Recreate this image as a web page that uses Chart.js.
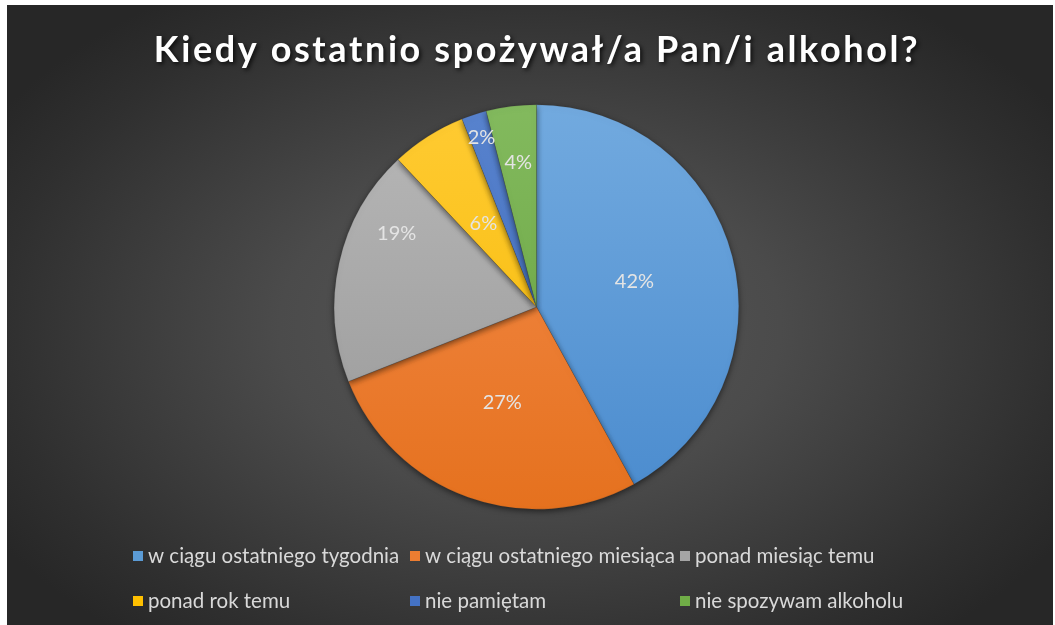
<!DOCTYPE html>
<html>
<head>
<meta charset="utf-8">
<script src="https://cdn.jsdelivr.net/npm/chart.js@4.4.1/dist/chart.umd.min.js"></script>
<style>
  html, body { margin: 0; padding: 0; background: #ffffff; }
  #panel {
    position: absolute; left: 7px; top: 5px; width: 1046px; height: 620px;
    background: radial-gradient(ellipse 60% 65% at 50% 52%, #585858 0%, #4b4b4b 40%, #2f2f2f 85%, #272727 100%);
  }
  canvas { display: block; }
</style>
</head>
<body>
<div id="panel"><canvas id="c" width="1046" height="620"></canvas></div>
<script>
// ---- data ----
const chartTitle = 'Kiedy ostatnio spożywał/a Pan/i alkohol?';
const categories = [
  'w ciągu ostatniego tygodnia',
  'w ciągu ostatniego miesiąca',
  'ponad miesiąc temu',
  'ponad rok temu',
  'nie pamiętam',
  'nie spozywam alkoholu'
];
const values = [42, 27, 19, 6, 2, 4];
const valueLabels = ['42%', '27%', '19%', '6%', '2%', '4%'];

// ---- styles ----
const baseColors = ['#5B9BD5', '#ED7D31', '#A5A5A5', '#FFC000', '#4472C4', '#70AD47'];
const topColors  = ['#72AADF', '#F58D4E', '#B8B8B8', '#FFCB33', '#5883CE', '#83BA5E'];
const botColors  = ['#4A8BCE', '#E5711E', '#979797', '#F5B800', '#3B67B8', '#64A03C'];
const labelRadiusFrac = [0.50, 0.50, 0.78, 0.49, 0.88, 0.72];
const labelAngleShiftDeg = [0, 0, 15, 0, 0, 0];
const legendCols = [126, 403, 673];
const legendRows = [551, 596];

function sliceGradient(ctx) {
  const chart = ctx.chart;
  const area = chart.chartArea;
  if (!area) return baseColors[ctx.dataIndex];
  const g = chart.ctx.createLinearGradient(0, area.top, 0, area.bottom);
  g.addColorStop(0, topColors[ctx.dataIndex]);
  g.addColorStop(1, botColors[ctx.dataIndex]);
  return g;
}

const titlePlugin = {
  id: 'customTitle',
  beforeDraw(chart) {
    const ctx = chart.ctx;
    ctx.save();
    ctx.font = 'bold 36px Lato, "Open Sans", sans-serif';
    ctx.letterSpacing = '2.6px';
    ctx.fillStyle = '#ffffff';
    ctx.textAlign = 'center';
    ctx.textBaseline = 'middle';
    ctx.shadowColor = 'rgba(0,0,0,0.75)';
    ctx.shadowBlur = 4;
    ctx.shadowOffsetX = 2;
    ctx.shadowOffsetY = 2;
    ctx.fillText(chartTitle, 530, 45);
    ctx.restore();
  }
};

const shadowPlugin = {
  id: 'pieShadow',
  beforeDatasetsDraw(chart) {
    const ctx = chart.ctx;
    ctx.save();
    ctx.shadowColor = 'rgba(0,0,0,0.55)';
    ctx.shadowBlur = 6;
    ctx.shadowOffsetX = 0;
    ctx.shadowOffsetY = 2;
  },
  afterDatasetsDraw(chart) {
    chart.ctx.restore();
  }
};

const labelPlugin = {
  id: 'sliceLabels',
  afterDraw(chart) {
    const ctx = chart.ctx;
    const meta = chart.getDatasetMeta(0);
    ctx.save();
    ctx.font = '20px Lato, "Open Sans", sans-serif';
    ctx.fillStyle = '#e4e4e4';
    ctx.textAlign = 'center';
    ctx.textBaseline = 'middle';
    meta.data.forEach((arc, i) => {
      const p = arc.getProps(['x', 'y', 'startAngle', 'endAngle', 'outerRadius'], true);
      const a = (p.startAngle + p.endAngle) / 2 + labelAngleShiftDeg[i] * Math.PI / 180;
      const r = p.outerRadius * labelRadiusFrac[i];
      ctx.fillText(valueLabels[i], p.x + r * Math.cos(a), p.y + r * Math.sin(a));
    });
    ctx.restore();
  }
};

const legendPlugin = {
  id: 'gridLegend',
  afterDraw(chart) {
    const ctx = chart.ctx;
    ctx.save();
    ctx.font = '20.5px Lato, "Open Sans", sans-serif';
    ctx.textBaseline = 'middle';
    ctx.textAlign = 'left';
    categories.forEach((name, i) => {
      const col = i < 3 ? i : i - 3;
      const row = i < 3 ? 0 : 1;
      const x = legendCols[col];
      const y = legendRows[row];
      ctx.fillStyle = baseColors[i];
      ctx.fillRect(x, y - 5, 10, 10);
      ctx.fillStyle = '#d9d9d9';
      ctx.fillText(name, x + 15, y);
    });
    ctx.restore();
  }
};

new Chart(document.getElementById('c'), {
  type: 'pie',
  data: {
    labels: categories,
    datasets: [{
      data: values,
      backgroundColor: sliceGradient,
      borderWidth: 0.5,
      borderColor: 'rgba(60,60,60,0.35)'
    }]
  },
  options: {
    responsive: false,
    animation: false,
    layout: { padding: { top: 98, bottom: 114, left: 327, right: 314 } },
    plugins: {
      legend: { display: false },
      title: { display: false },
      tooltip: { enabled: false }
    }
  },
  plugins: [titlePlugin, shadowPlugin, labelPlugin, legendPlugin]
});
</script>
</body>
</html>
